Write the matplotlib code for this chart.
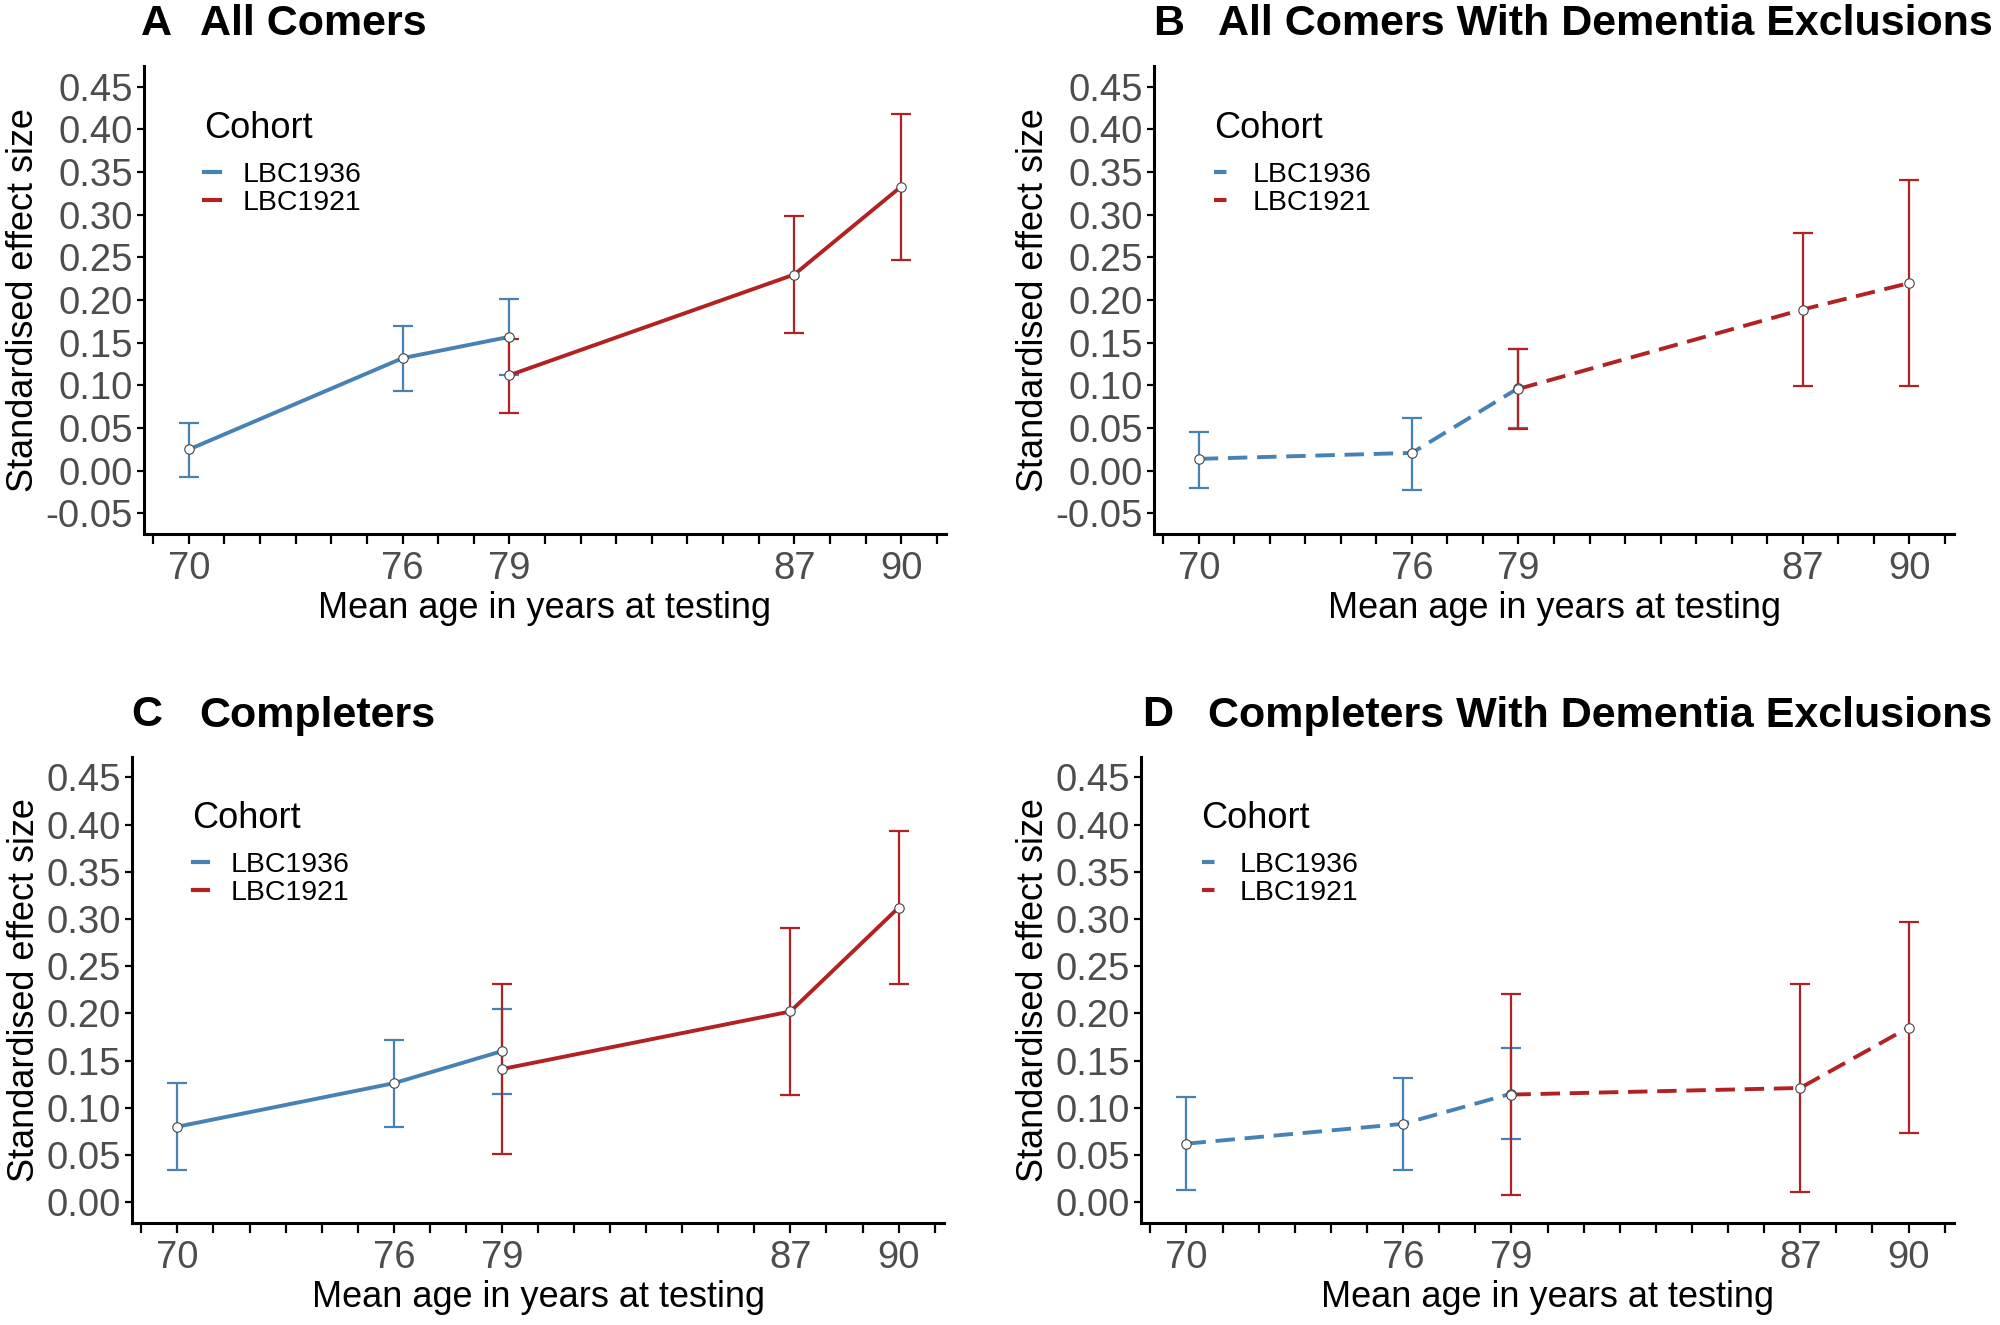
import numpy as np
import matplotlib.pyplot as plt
from matplotlib.lines import Line2D

plt.rcParams['font.family'] = ['Liberation Sans', 'DejaVu Sans']

BLUE = '#4682B4'
RED = '#B22222'

ages_1936 = [70, 76, 79]
ages_1921 = [79, 87, 90]

# A  all comers
a_1936 = [0.025, 0.132, 0.157]
a_1936_lo = [-0.007, 0.093, 0.112]
a_1936_hi = [0.056, 0.170, 0.201]
a_1921 = [0.112, 0.230, 0.333]
a_1921_lo = [0.068, 0.162, 0.247]
a_1921_hi = [0.155, 0.299, 0.418]

# B  all comers, dementia exclusions
b_1936 = [0.014, 0.021, 0.097]
b_1936_lo = [-0.020, -0.022, 0.050]
b_1936_hi = [0.046, 0.062, 0.143]
b_1921 = [0.096, 0.189, 0.220]
b_1921_lo = [0.049, 0.099, 0.099]
b_1921_hi = [0.143, 0.279, 0.341]

# C  completers
c_1936 = [0.080, 0.126, 0.160]
c_1936_lo = [0.034, 0.080, 0.115]
c_1936_hi = [0.126, 0.172, 0.205]
c_1921 = [0.141, 0.202, 0.312]
c_1921_lo = [0.051, 0.114, 0.231]
c_1921_hi = [0.231, 0.290, 0.393]

# D  completers, dementia exclusions
d_1936 = [0.062, 0.083, 0.115]
d_1936_lo = [0.013, 0.034, 0.067]
d_1936_hi = [0.111, 0.132, 0.163]
d_1921 = [0.114, 0.121, 0.185]
d_1921_lo = [0.008, 0.011, 0.073]
d_1921_hi = [0.220, 0.231, 0.297]

xlabels = [70, 76, 79, 87, 90]
yticks_ab = [-0.05, 0.00, 0.05, 0.10, 0.15, 0.20, 0.25, 0.30, 0.35, 0.40, 0.45]
yticks_cd = [0.00, 0.05, 0.10, 0.15, 0.20, 0.25, 0.30, 0.35, 0.40, 0.45]

panels = [
    dict(letter='A', title='All Comers', pos=[0.072, 0.597, 0.401, 0.353],
         lx=0.0705, tx=0.1001, ty=0.982, ls='-', ylim=(-0.074, 0.474), yt=yticks_ab,
         s1=(a_1936, a_1936_lo, a_1936_hi), s2=(a_1921, a_1921_lo, a_1921_hi)),
    dict(letter='B', title='All Comers With Dementia Exclusions', pos=[0.577, 0.597, 0.400, 0.353],
         lx=0.5765, tx=0.609, ty=0.982, ls='--', ylim=(-0.074, 0.474), yt=yticks_ab,
         s1=(b_1936, b_1936_lo, b_1936_hi), s2=(b_1921, b_1921_lo, b_1921_hi)),
    dict(letter='C', title='Completers', pos=[0.066, 0.077, 0.406, 0.352],
         lx=0.0655, tx=0.0995, ty=0.460, ls='-', ylim=(-0.022, 0.472), yt=yticks_cd,
         s1=(c_1936, c_1936_lo, c_1936_hi), s2=(c_1921, c_1921_lo, c_1921_hi)),
    dict(letter='D', title='Completers With Dementia Exclusions', pos=[0.5705, 0.077, 0.4065, 0.352],
         lx=0.571, tx=0.604, ty=0.460, ls='--', ylim=(-0.022, 0.472), yt=yticks_cd,
         s1=(d_1936, d_1936_lo, d_1936_hi), s2=(d_1921, d_1921_lo, d_1921_hi)),
]

fig = plt.figure(figsize=(20, 13.25), dpi=100)

for p in panels:
    ax = fig.add_axes(p['pos'])
    for ages, (y, lo, hi), col in [(ages_1936, p['s1'], BLUE), (ages_1921, p['s2'], RED)]:
        y = np.array(y)
        err = [y - np.array(lo), np.array(hi) - y]
        ax.errorbar(ages, y, yerr=err, fmt='none', ecolor=col, elinewidth=1.6,
                    capsize=7, capthick=1.6, zorder=2)
        ax.plot(ages, y, color=col, lw=2.8, ls=p['ls'], dashes=(5, 2.5) if p['ls'] == '--' else (None, None),
                zorder=3)
    for ages, (y, lo, hi) in [(ages_1936, p['s1']), (ages_1921, p['s2'])]:
        ax.plot(ages, y, ls='none', marker='o', ms=6.8, mfc='white', mec='#444444', mew=0.8, zorder=4)

    ax.set_xlim(68.74, 91.26)
    ax.set_ylim(*p['ylim'])
    ax.set_xticks(range(69, 92))
    ax.set_xticklabels([str(v) if v in xlabels else '' for v in range(69, 92)])
    ax.set_yticks(p['yt'])
    ax.set_yticklabels(['%.2f' % v for v in p['yt']])
    ax.tick_params(axis='x', length=7, width=1.6, labelsize=27.5, labelcolor='#4D4D4D', pad=5)
    ax.tick_params(axis='y', length=5, width=1.6, labelsize=27.5, labelcolor='#4D4D4D', pad=3)
    for s in ['top', 'right']:
        ax.spines[s].set_visible(False)
    for s in ['left', 'bottom']:
        ax.spines[s].set_linewidth(2.2)
    ax.set_xlabel('Mean age in years at testing', fontsize=26, labelpad=3)
    ax.set_ylabel('Standardised effect size', fontsize=26, labelpad=3)

    handles = [Line2D([0], [0], color=BLUE, lw=3, ls=p['ls']),
               Line2D([0], [0], color=RED, lw=3, ls=p['ls'])]
    if p['ls'] == '--':
        for h in handles:
            h.set_dashes((3, 1.2))
    leg = ax.legend(handles, ['LBC1936', 'LBC1921'], title='Cohort', loc='upper left',
                    bbox_to_anchor=(0.05, 0.948), frameon=False, fontsize=20.5, title_fontsize=26,
                    handlelength=0.55, handletextpad=0.8, labelspacing=0.05, borderpad=0.2,
                    alignment='left')
    leg._legend_box.sep = 12

    fig.text(p['lx'], p['ty'], p['letter'], fontsize=31, fontweight='bold', ha='left', va='center')
    fig.text(p['tx'], p['ty'], p['title'], fontsize=31, fontweight='bold', ha='left', va='center')

fig.savefig('out.png', dpi=100)
